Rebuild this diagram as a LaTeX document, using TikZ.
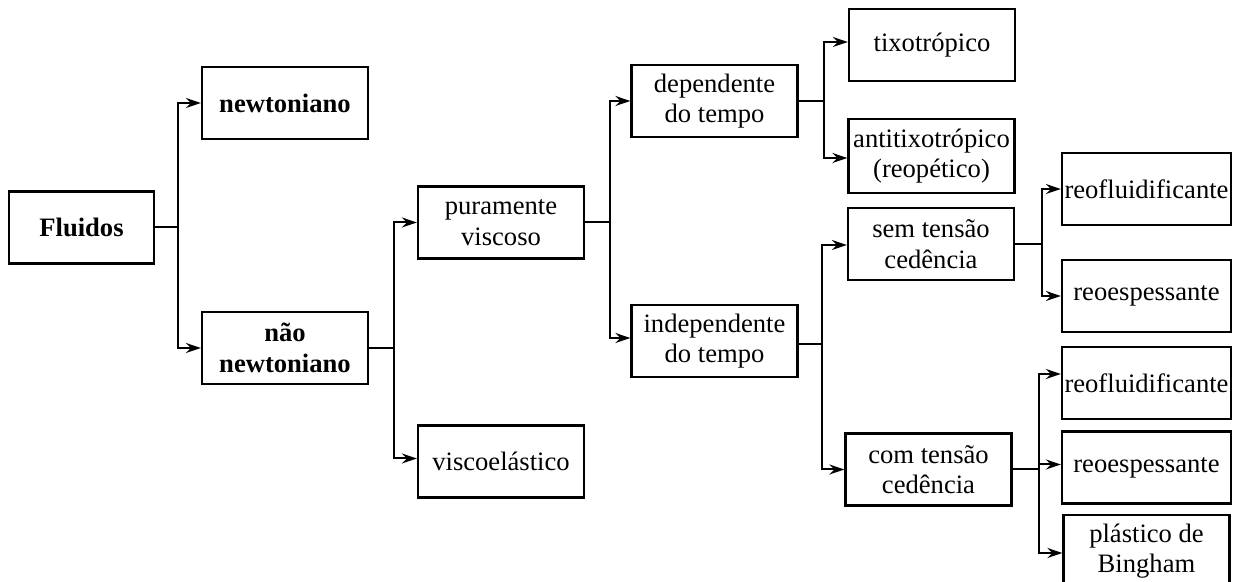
\documentclass[tikz,border=0pt]{standalone}
\usepackage{fontspec}
\setmainfont{Liberation Serif}[Ligatures=NoCommon]
\usepackage{tikz}
\usetikzlibrary{arrows.meta}

\tikzset{
  box/.style={draw, line width=1.1pt, minimum width=83pt, minimum height=36pt,
    align=center, inner sep=1pt},
  wbox/.style={box, minimum width=84.5pt},
  arr/.style={line width=1pt, -{Stealth[length=7.5pt,width=5pt,inset=2.5pt]}}
}

\begin{document}
\begin{tikzpicture}[x=0.5pt,y=0.5pt,yscale=-1,xscale=1,
  font=\fontsize{13.3pt}{15.3pt}\selectfont]
\useasboundingbox (0,0) rectangle (1239,582);

% Text Node
\node[box, minimum width=72.5pt] (flu) at (81.5,227.5) {\textbf{Fluidos}};
% Text Node
\node[box] (newt) at (285,103) {\textbf{newtoniano}};
% Text Node
\node[box] (naonewt) at (285,348) {\textbf{não}\\\textbf{newtoniano}};
% Text Node
\node[box] (purv) at (501,222.5) {puramente\\viscoso};
% Text Node
\node[box] (viscel) at (501,461.5) {viscoelástico};
% Text Node
\node[box] (dept) at (714.5,101) {dependente\\do tempo};
% Text Node
\node[box] (indept) at (714.5,341) {independente\\do tempo};
% Text Node
\node[box] (tixo) at (932,45) {tixotrópico};
% Text Node
\node[box, minimum height=37pt] (antixo) at (931.5,156) {antitixotrópico\\(reopético)};
% Text Node
\node[box] (semtc) at (931,244) {sem tensão\\cedência};
% Text Node
\node[box] (comtc) at (928.5,469.5) {com tensão\\cedência};
% Text Node
\node[wbox] (reof1) at (1146.5,189) {reofluidificante};
% Text Node
\node[wbox] (reoe1) at (1146.5,296) {reoespessante};
% Text Node
\node[wbox] (reof2) at (1146.5,383) {reofluidificante};
% Text Node
\node[wbox] (reoe2) at (1146.5,467.5) {reoespessante};
% Text Node
\node[box] (bing) at (1146.5,551) {plástico de\\Bingham};

%Straight Lines
\draw[arr] (flu.east) -- ++(23,0) |- (newt.west);
\draw[arr] (flu.east) -- ++(23,0) |- (naonewt.west);
%Straight Lines
\draw[arr] (naonewt.east) -- ++(25,0) |- (purv.west);
\draw[arr] (naonewt.east) -- ++(25,0) |- ([yshift=-1.5pt]viscel.west);
%Straight Lines
\draw[arr] (purv.east) -- ++(25,0) |- (dept.west);
\draw[arr] (purv.east) -- ++(25,0) |- ([yshift=-1.5pt]indept.west);
%Straight Lines
\draw[arr] (dept.east) -- ++(25,0) |- ([yshift=-1.5pt]tixo.west);
\draw[arr] (dept.east) -- ++(25,0) |- ([yshift=1pt]antixo.west);
%Straight Lines
\draw[arr] ([yshift=1.5pt]indept.east) -- ++(23,0) |- ([yshift=0.5pt]semtc.west);
\draw[arr] ([yshift=1.5pt]indept.east) -- ++(23,0) |- (comtc.west);
%Straight Lines
\draw[arr] (semtc.east) -- ++(27,0) |- (reof1.west);
\draw[arr] (semtc.east) -- ++(27,0) |- (reoe1.west);
%Straight Lines
\draw[arr] (comtc.east) -- ++(26,0) |- ([yshift=-4.5pt]reof2.west);
\draw[arr] (comtc.east) -- ++(26,0) |- ([yshift=-1.5pt]reoe2.west);
\draw[arr] (comtc.east) -- ++(26,0) |- ([yshift=1pt]bing.west);

\end{tikzpicture}
\end{document}
